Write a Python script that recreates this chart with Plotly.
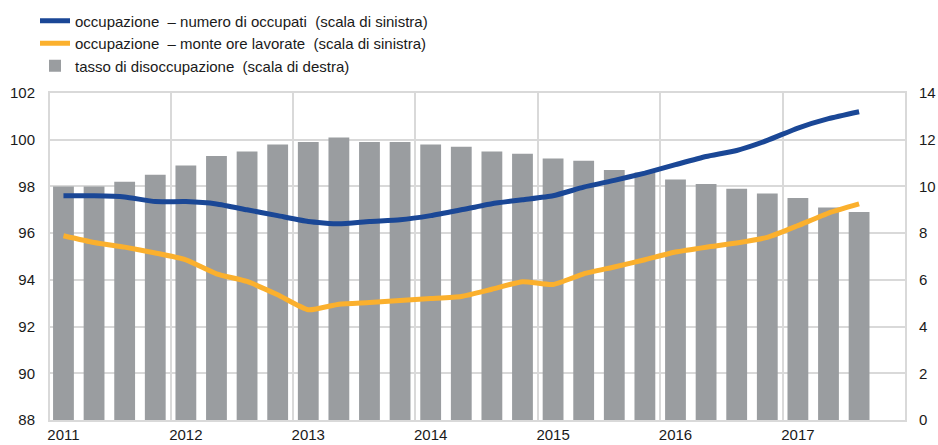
import plotly.graph_objects as go

quarters = ["2011Q1", "2011Q2", "2011Q3", "2011Q4",
            "2012Q1", "2012Q2", "2012Q3", "2012Q4",
            "2013Q1", "2013Q2", "2013Q3", "2013Q4",
            "2014Q1", "2014Q2", "2014Q3", "2014Q4",
            "2015Q1", "2015Q2", "2015Q3", "2015Q4",
            "2016Q1", "2016Q2", "2016Q3", "2016Q4",
            "2017Q1", "2017Q2", "2017Q3"]
year_labels = ["2011", "2012", "2013", "2014", "2015", "2016", "2017"]

unemployment = [10.0, 10.0, 10.2, 10.5, 10.9, 11.3, 11.5, 11.8, 11.9, 12.1, 11.9, 11.9,
                11.8, 11.7, 11.5, 11.4, 11.2, 11.1, 10.7, 10.6, 10.3, 10.1, 9.9, 9.7,
                9.5, 9.1, 8.9]
employed = [97.6, 97.6, 97.55, 97.35, 97.35, 97.25, 97.0, 96.75, 96.5, 96.4, 96.5, 96.57,
            96.75, 97.0, 97.26, 97.43, 97.6, 97.97, 98.26, 98.57, 98.93, 99.28, 99.54, 99.97,
            100.5, 100.9, 101.2]
hours = [95.89, 95.6, 95.4, 95.15, 94.86, 94.26, 93.93, 93.36, 92.72, 92.96, 93.03, 93.12,
         93.2, 93.29, 93.6, 93.92, 93.8, 94.26, 94.55, 94.86, 95.19, 95.4, 95.58, 95.82,
         96.32, 96.86, 97.25]

NB = "\u00a0"
names = ["occupazione" + NB + " \u2013 numero di occupati" + NB + " (scala di sinistra)",
         "occupazione" + NB + " \u2013 monte ore lavorate" + NB + " (scala di sinistra)",
         "tasso di disoccupazione" + NB + " (scala di destra)"]

BLUE = "#1a4796"
ORANGE = "#fbb02d"
GRAY = "#9a9da0"
GRID = "#d9d9d9"
FONT = "Liberation Sans, Arial, sans-serif"

x = list(range(len(quarters)))
year_pos = [quarters.index(y + "Q1") for y in year_labels]
boundaries = [p - 0.5 for p in year_pos[1:]]

fig = go.Figure()
fig.add_trace(go.Bar(x=x, y=unemployment, name=names[2], marker=dict(color=GRAY, line_width=0),
                     width=0.68, yaxis="y", legendrank=3))
fig.add_trace(go.Scatter(x=x, y=employed, name=names[0], mode="lines",
                         line=dict(color=BLUE, width=5, shape="spline", smoothing=0.5),
                         yaxis="y2", legendrank=1))
fig.add_trace(go.Scatter(x=x, y=hours, name=names[1], mode="lines",
                         line=dict(color=ORANGE, width=5, shape="spline", smoothing=0.5),
                         yaxis="y2", legendrank=2))

fig.update_layout(
    width=938, height=445,
    margin=dict(l=50, r=33, t=93, b=25, autoexpand=False),
    paper_bgcolor="white", plot_bgcolor="white",
    font=dict(family=FONT, size=15, color="#1a1a1a"),
    showlegend=True,
    legend=dict(xref="container", yref="container", x=35 / 938, y=0.99,
                xanchor="left", yanchor="top",
                font=dict(size=15), bgcolor="rgba(0,0,0,0)", tracegroupgap=0,
                itemwidth=30),
    xaxis=dict(range=[-0.44, 27.5], tickvals=year_pos, ticktext=year_labels,
               showgrid=False, zeroline=False, ticks="",
               showline=True, linecolor=GRID, linewidth=2, mirror=True,
               minor=dict(tickvals=boundaries, showgrid=True, gridcolor=GRID, gridwidth=2, ticks=""),
               tickfont=dict(size=15)),
    yaxis=dict(range=[0, 14], dtick=2, side="right", showgrid=True, gridcolor=GRID, gridwidth=2,
               zeroline=False, showline=True, linecolor=GRID, linewidth=2, mirror=True,
               ticks="", ticklabelstandoff=9, tickfont=dict(size=15)),
    yaxis2=dict(range=[88, 102], dtick=2, side="left", overlaying="y", showgrid=False,
                zeroline=False, ticks="", ticklabelstandoff=14, tickfont=dict(size=15)),
    bargap=0.3,
)

# remove the browser's default 8px body margin so the figure fills the window exactly
fig.write_html("out.html", config={"displayModeBar": False},
               post_script="document.body.style.margin='0';")
